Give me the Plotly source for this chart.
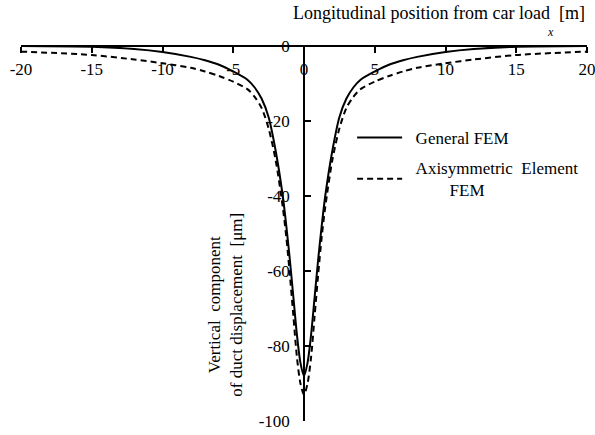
import plotly.graph_objects as go

# Longitudinal position from car load [m]
x_pos = [-20, -15, -12, -10, -8, -7, -6, -5, -4, -3.5, -3, -2.5, -2, -1.5, -1.25, -1, -0.75, -0.5, -0.25,
         0, 0.25, 0.5, 0.75, 1, 1.25, 1.5, 2, 2.5, 3, 3.5, 4, 5, 6, 7, 8, 10, 12, 15, 20]

# Vertical duct displacement [um], general FEM model
general_fem = [0, -0.2, -0.8, -1.6, -2.9, -3.8, -5.0, -6.8, -9.0, -11.0, -14.0, -19.0, -28.0, -40.0, -48.0, -57.0, -67.0, -77.0, -84.5,
               -88.0, -84.5, -77.0, -67.0, -57.0, -48.0, -40.0, -28.0, -19.0, -14.0, -11.0, -9.0, -6.8, -5.0, -3.8, -2.9, -1.6, -0.8, -0.2, 0]

# Vertical duct displacement [um], axisymmetric element FEM model
axisym_fem = [-1.5, -2.4, -3.6, -4.6, -5.8, -6.8, -8.0, -9.5, -11.5, -13.5, -16.5, -22.0, -30.5, -43.0, -51.0, -61.0, -72.0, -83.0, -90.0,
              -93.0, -90.0, -83.0, -72.0, -61.0, -51.0, -43.0, -30.5, -22.0, -16.5, -13.5, -11.5, -9.5, -8.0, -6.8, -5.8, -4.6, -3.6, -2.4, -1.5]

x_ticks = [-20, -15, -10, -5, 0, 5, 10, 15, 20]
y_ticks = [-100, -80, -60, -40, -20, 0]

FONT = "Times New Roman"

fig = go.Figure()
fig.add_trace(go.Scatter(
    x=x_pos, y=general_fem, mode="lines", name="\u00a0\u00a0General FEM",
    line=dict(color="black", width=2, shape="spline", smoothing=0.8),
    legend="legend",
))
fig.add_trace(go.Scatter(
    x=x_pos, y=axisym_fem, mode="lines",
    name="\u00a0\u00a0Axisymmetric  Element<br>\u00a0\u00a0\u00a0\u00a0\u00a0\u00a0\u00a0\u00a0\u00a0\u00a0FEM",
    line=dict(color="black", width=2, dash="6px,4px", shape="spline", smoothing=0.8),
    legend="legend2",
))

fig.update_layout(
    width=595, height=435,
    margin=dict(l=21, r=8, t=46, b=14, autoexpand=False),
    paper_bgcolor="white", plot_bgcolor="white",
    font=dict(family=FONT, size=17, color="black"),
    showlegend=True,
    legend=dict(x=0.585, y=0.755, xanchor="left", yanchor="middle", itemwidth=45,
                bgcolor="rgba(0,0,0,0)", font=dict(size=17, family=FONT)),
    legend2=dict(x=0.585, y=0.645, xanchor="left", yanchor="middle", itemwidth=45,
                 bgcolor="rgba(0,0,0,0)", font=dict(size=17, family=FONT)),
    xaxis=dict(
        range=[-20, 20], anchor="free", position=1.0, side="bottom",
        tickvals=x_ticks, ticktext=[str(v) for v in x_ticks],
        ticks="outside", ticklen=6, tickwidth=1.5, tickcolor="black",
        ticklabelstandoff=2, ticklabeloverflow="allow", automargin=False,
        showline=True, linecolor="black", linewidth=1.5,
        showgrid=False, zeroline=False,
        tickfont=dict(size=17, family=FONT),
    ),
    yaxis=dict(
        range=[-100, 0],
        anchor="free", position=0.5, side="left",
        tickvals=y_ticks, ticktext=[str(v) for v in y_ticks],
        ticks="inside", ticklen=6, tickwidth=1.5, tickcolor="black",
        ticklabelstandoff=10, ticklabeloverflow="allow", automargin=False,
        showline=True, linecolor="black", linewidth=1.5,
        showgrid=False, zeroline=False,
        tickfont=dict(size=17, family=FONT),
    ),
)

# Axis titles
fig.add_annotation(
    text="Longitudinal position from car load  [m]",
    xref="paper", yref="paper", x=1.0, y=1.0, yshift=33,
    xanchor="right", yanchor="middle", showarrow=False,
    font=dict(size=18, family=FONT),
)
fig.add_annotation(
    text="<i>x</i>",
    xref="paper", yref="paper", x=0.935, y=1.0, yshift=14,
    xanchor="center", yanchor="middle", showarrow=False,
    font=dict(size=12, family=FONT),
)
fig.add_annotation(
    text="Vertical  component<br>of duct displacement  [\u03bcm]",
    xref="paper", yref="paper", x=0.362, y=0.31,
    xanchor="center", yanchor="middle", showarrow=False, textangle=-90,
    font=dict(size=17, family=FONT),
)

fig.write_html("out.html")
